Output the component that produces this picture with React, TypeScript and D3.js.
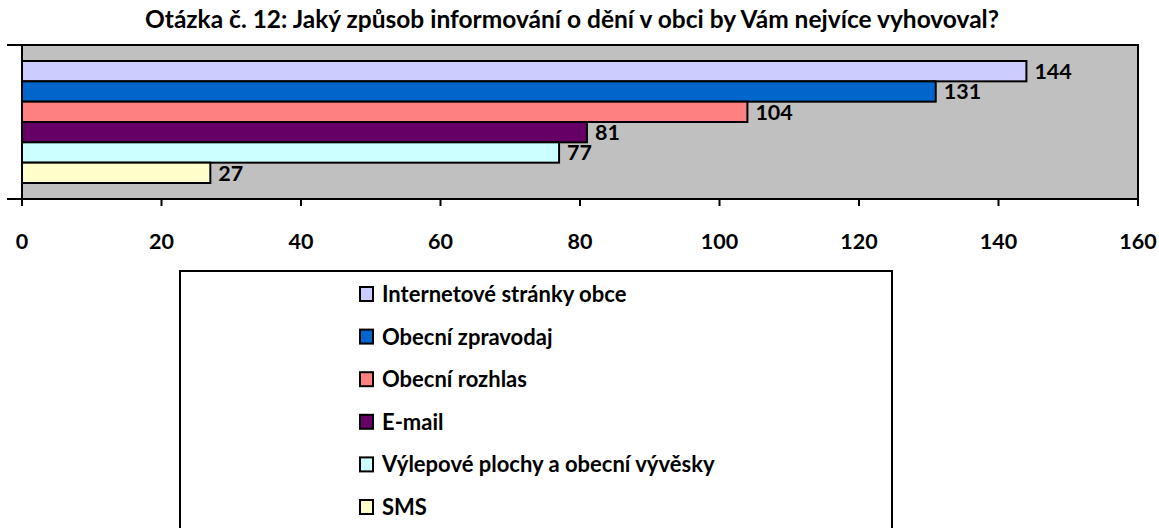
import React from "react";
import * as d3 from "d3";

const title = "Otázka č. 12: Jaký způsob informování o dění v obci by Vám nejvíce vyhovoval?";
const categories = [
  "Internetové stránky obce",
  "Obecní zpravodaj",
  "Obecní rozhlas",
  "E-mail",
  "Výlepové plochy a obecní vývěsky",
  "SMS",
];
const values = [144, 131, 104, 81, 77, 27];
const colors = ["#CCCCFF", "#0066CC", "#FF8080", "#660066", "#CCFFFF", "#FFFFCC"];
const xTicks = [0, 20, 40, 60, 80, 100, 120, 140, 160];

const W = 1159;
const H = 528;
const FONT = "Lato, 'Open Sans', sans-serif";

export default function App() {
  const plot = { left: 22, right: 1138, top: 45, bottom: 199 };
  const x = d3.scaleLinear().domain([0, 160]).range([plot.left, plot.right]);
  const y = d3
    .scaleBand<string>()
    .domain(categories)
    .range([plot.top + 16, plot.bottom - 16])
    .padding(0);

  const legend = { left: 180, top: 271, right: 892, bottom: 540 };
  const ly = d3.scalePoint<string>().domain(categories).range([294, 507]);

  return (
    <svg width={W} height={H} style={{ position: "absolute", left: 0, top: 0 }} fontFamily={FONT}>
      <rect x={0} y={0} width={W} height={H} fill="#fff" />
      <text x={572} y={28} textAnchor="middle" fontWeight="bold" fontSize={24.5}>
        {title}
      </text>
      <rect
        x={plot.left}
        y={plot.top}
        width={plot.right - plot.left}
        height={plot.bottom - plot.top}
        fill="#C0C0C0"
        stroke="#000"
        strokeWidth={2}
      />
      {categories.map((c, i) => (
        <g key={c}>
          <rect
            x={x(0)}
            y={y(c)!}
            width={x(values[i]) - x(0)}
            height={y.bandwidth()}
            fill={colors[i]}
            stroke="#000"
            strokeWidth={2}
          />
          <text
            x={x(values[i]) + 8}
            y={y(c)! + y.bandwidth() / 2}
            dy="0.36em"
            fontWeight="bold"
            fontSize={21.5}
          >
            {values[i]}
          </text>
        </g>
      ))}
      <line x1={7} x2={plot.left} y1={plot.top} y2={plot.top} stroke="#000" strokeWidth={2} />
      <line x1={7} x2={plot.left} y1={plot.bottom} y2={plot.bottom} stroke="#000" strokeWidth={2} />
      {xTicks.map((t) => (
        <g key={t}>
          <line x1={x(t)} x2={x(t)} y1={plot.bottom} y2={plot.bottom + 7} stroke="#000" strokeWidth={2} />
          <text x={x(t)} y={241} dy="0.36em" textAnchor="middle" fontWeight="bold" fontSize={21.5}>
            {t}
          </text>
        </g>
      ))}
      <rect
        x={legend.left}
        y={legend.top}
        width={legend.right - legend.left}
        height={legend.bottom - legend.top}
        fill="#fff"
        stroke="#000"
        strokeWidth={2}
      />
      {categories.map((c, i) => (
        <g key={"l" + c}>
          <rect x={360} y={ly(c)! - 7} width={13} height={14} fill={colors[i]} stroke="#000" strokeWidth={2} />
          <text x={382} y={ly(c)!} dy="0.36em" fontWeight="bold" fontSize={22}>
            {c}
          </text>
        </g>
      ))}
    </svg>
  );
}
